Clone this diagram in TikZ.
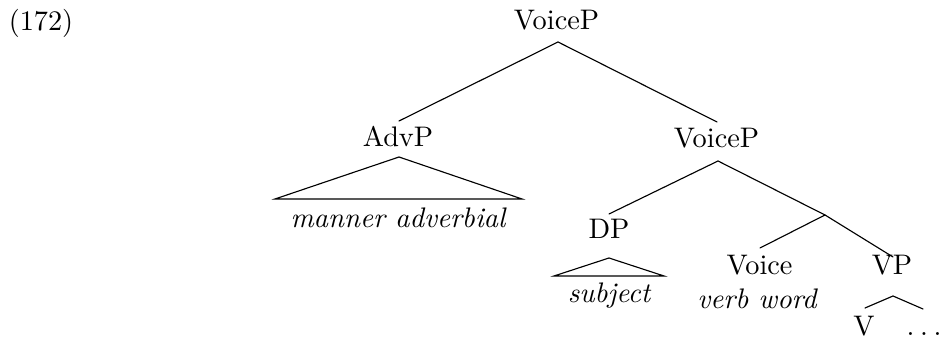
\documentclass[tikz,border=0pt]{standalone}
\begin{document}
\begin{tikzpicture}[x=0.3534pt,y=-0.3534pt,
  lab/.style={anchor=base,inner sep=0pt,font=\fontsize{10}{12}\selectfont},
  itl/.style={lab,font=\fontsize{10}{12}\selectfont\itshape},
  edge/.style={line width=0.4pt,line cap=round,line join=miter}]
\useasboundingbox (0,0) rectangle (941,340);
% labels
\node[lab] (ex) at (41,31) {(172)};
\node[lab] (vp1) at (556.5,30) {VoiceP};
\node[lab] (adv) at (398,147) {AdvP};
\node[lab] (vp2) at (716.5,148) {VoiceP};
\node[itl] (man) at (398,228) {manner adverbial};
\node[lab] (dp) at (609,239) {DP};
\node[itl] (subj) at (609,303) {subject};
\node[lab] (voice) at (759.5,275) {Voice};
\node[itl] (vw) at (757,309) {verb word};
\node[lab] (vp) at (892,275) {VP};
\node[lab] (v) at (864,336) {V};
\node[lab,anchor=base west] (dots) at (906,336) {.\kern2pt.\kern2pt.};
% connector end points
\coordinate (vp1b) at (558,42);
\coordinate (advt) at (399,121);
\coordinate (vp2t) at (717,122);
\coordinate (vp2b) at (718,161);
\coordinate (dpt) at (609,214);
\coordinate (bar) at (825,215);
\coordinate (voicet) at (760,248);
\coordinate (vpt) at (893,257);
\coordinate (vpb) at (893,296);
\coordinate (vt) at (865,308);
\coordinate (dotst) at (923,309);
\coordinate (advr) at (399,157);
\coordinate (advl) at (275,199);
\coordinate (advrr) at (522,199);
\coordinate (dpr) at (609,258);
\coordinate (dpl) at (554,276);
\coordinate (dprr) at (664,276);
% branches
\draw[edge] (advt) -- (vp1b) -- (vp2t);
\draw[edge] (dpt) -- (vp2b) -- (bar) -- (vpt);
\draw[edge] (bar) -- (voicet);
\draw[edge] (vt) -- (vpb) -- (dotst);
% roofs
\draw[edge] (advl) -- (advr) -- (advrr) -- cycle;
\draw[edge] (dpl) -- (dpr) -- (dprr) -- cycle;
\end{tikzpicture}
\end{document}
